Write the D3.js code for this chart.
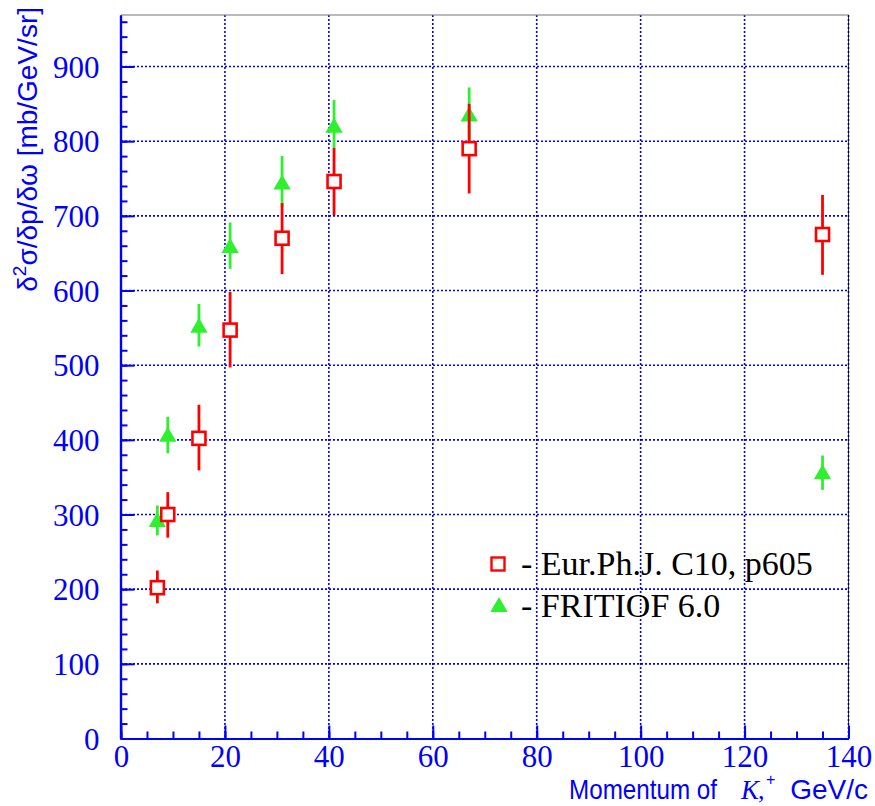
<!DOCTYPE html>
<html>
<head>
<meta charset="utf-8">
<script src="https://cdn.jsdelivr.net/npm/d3@7"></script>
<style>
  html, body { margin: 0; padding: 0; background: #fff; }
  svg { display: block; }
</style>
</head>
<body>
<svg id="chart" width="875" height="806"></svg>
<script>
// ---- data ----
const momentum = [7, 9, 15, 21, 31, 41, 67, 135];
const eurValues = [202, 300, 402, 547, 670, 746, 790, 675];
const eurLow    = [181, 269, 359, 497, 622, 701, 730, 621];
const eurHigh   = [225, 330, 447, 598, 717, 791, 850, 728];
const fritValues = [292, 406, 552, 659, 744, 820, 835, 356];
const fritLow    = [272, 382, 525, 629, 712, 791, 800, 333];
const fritHigh   = [312, 431, 582, 691, 780, 855, 872, 379];
const xTicks = [0, 20, 40, 60, 80, 100, 120, 140];
const yTicks = [0, 100, 200, 300, 400, 500, 600, 700, 800, 900];
const legendLabels = ["- Eur.Ph.J. C10, p605", "- FRITIOF 6.0"];

const BLUE = "#0000ff", RED = "#ff0000", GREEN = "#2ef02e";
const SERIF = "'Liberation Serif', 'Times New Roman', Times, serif";
const SANS = "'Liberation Sans', Arial, Helvetica, sans-serif";
const svg = d3.select("#chart");
const pLeft = 121, pRight = 848.5, pTop = 15, pBottom = 738.5;
const x = d3.scaleLinear().domain([0, 140]).range([pLeft, pRight]);
const y = d3.scaleLinear().domain([0, 969]).range([pBottom, pTop]);

// grid
const grid = svg.append("g");
grid.selectAll("line.h").data(yTicks.filter(v => v > 0)).enter().append("line")
  .attr("x1", pLeft).attr("x2", pRight).attr("y1", d => y(d)).attr("y2", d => y(d))
  .attr("stroke", BLUE).attr("stroke-width", 1.6).attr("stroke-dasharray", "2,2");
grid.selectAll("line.v").data(xTicks.filter(v => v > 0)).enter().append("line")
  .attr("y1", pTop).attr("y2", pBottom).attr("x1", d => x(d)).attr("x2", d => x(d))
  .attr("stroke", BLUE).attr("stroke-width", 1.6).attr("stroke-dasharray", "2,2");

// frame top/right
svg.append("line").attr("x1", pLeft).attr("x2", pRight + 0.5).attr("y1", pTop).attr("y2", pTop)
  .attr("stroke", "#777").attr("stroke-width", 1.2);
svg.append("line").attr("x1", pRight).attr("x2", pRight).attr("y1", pTop).attr("y2", pBottom)
  .attr("stroke", "#000").attr("stroke-width", 0.8);

// axes
const yAxis = d3.axisLeft(y).tickValues(yTicks).tickSizeInner(-14).tickSizeOuter(0).tickPadding(21);
const yMinor = d3.axisLeft(y).tickValues(d3.range(0, 961, 20)).tickSizeInner(-7).tickSizeOuter(0).tickFormat("");
const xAxis = d3.axisBottom(x).tickValues(xTicks).tickSizeInner(-13).tickSizeOuter(0).tickPadding(8);
const xMinor = d3.axisBottom(x).tickValues(d3.range(0, 141, 5)).tickSizeInner(-7).tickSizeOuter(0).tickFormat("");

function styleAxis(g) {
  g.attr("font-family", SERIF).attr("font-size", 31);
  g.select(".domain").attr("stroke", BLUE).attr("stroke-width", 2.2);
  g.selectAll(".tick line").attr("stroke", BLUE).attr("stroke-width", 2);
  g.selectAll(".tick text").attr("fill", BLUE)
    .style("font-family", SERIF).style("font-size", "31px");
}
svg.append("g").attr("transform", `translate(${pLeft - 0.5},0)`).call(yMinor).call(styleAxis);
svg.append("g").attr("transform", `translate(${pLeft - 0.5},0)`).call(yAxis).call(styleAxis)
  .selectAll(".tick text").attr("dy", "0.34em");
svg.append("g").attr("transform", `translate(0,${pBottom})`).call(xMinor).call(styleAxis);
svg.append("g").attr("transform", `translate(0,${pBottom})`).call(xAxis).call(styleAxis)
  .selectAll(".tick text").attr("dy", "0.65em");

// axis titles
const ytitle = svg.append("text")
  .attr("transform", "translate(37,7) rotate(-90)")
  .attr("text-anchor", "end")
  .attr("fill", BLUE)
  .style("font-family", SANS).style("font-size", "28px");
ytitle.append("tspan").text("δ");
ytitle.append("tspan").attr("dy", -11).style("font-size", "19px").text("2");
ytitle.append("tspan").attr("dy", 11).text("σ/δp/δω [mb/GeV/sr]");

const xt = svg.append("g").attr("fill", BLUE);
xt.append("text").attr("x", 569).attr("y", 799)
  .attr("textLength", 148).attr("lengthAdjust", "spacingAndGlyphs")
  .style("font-family", SANS).style("font-size", "28px").text("Momentum of");
xt.append("text").attr("x", 741).attr("y", 799)
  .style("font-family", SERIF).style("font-style", "italic").style("font-size", "27px").text("K");
xt.append("text").attr("x", 758).attr("y", 799)
  .style("font-family", SERIF).style("font-size", "26px").text(",");
xt.append("text").attr("x", 766).attr("y", 785)
  .style("font-family", SANS).style("font-size", "16px").text("+");
xt.append("text").attr("x", 868).attr("y", 799).attr("text-anchor", "end")
  .style("font-family", SANS).style("font-size", "28px").text("GeV/c");

// data
const fritData = momentum.map((m, i) => ({ m, v: fritValues[i], lo: fritLow[i], hi: fritHigh[i] }));
const eurData = momentum.map((m, i) => ({ m, v: eurValues[i], lo: eurLow[i], hi: eurHigh[i] }));
const tri = d3.symbol().type(d3.symbolTriangle).size(130);

const gF = svg.append("g");
gF.selectAll("line").data(fritData).enter().append("line")
  .attr("x1", d => x(d.m)).attr("x2", d => x(d.m)).attr("y1", d => y(d.lo)).attr("y2", d => y(d.hi))
  .attr("stroke", GREEN).attr("stroke-width", 2.8);
gF.selectAll("path").data(fritData).enter().append("path")
  .attr("d", tri).attr("transform", d => `translate(${x(d.m)},${y(d.v) + 1.5})`)
  .attr("fill", GREEN);

const gE = svg.append("g");
const sq = 13;
gE.selectAll("line").data(eurData).enter().append("line")
  .attr("x1", d => x(d.m)).attr("x2", d => x(d.m)).attr("y1", d => y(d.lo)).attr("y2", d => y(d.hi))
  .attr("stroke", RED).attr("stroke-width", 2.8);
gE.selectAll("rect").data(eurData).enter().append("rect")
  .attr("x", d => x(d.m) - sq / 2).attr("y", d => y(d.v) - sq / 2)
  .attr("width", sq).attr("height", sq)
  .attr("fill", "#fff").attr("stroke", RED).attr("stroke-width", 2.6);

// legend
const lg = svg.append("g");
lg.append("rect").attr("x", 498 - 6.5).attr("y", 564 - 6.5).attr("width", 13).attr("height", 13)
  .attr("fill", "#fff").attr("stroke", RED).attr("stroke-width", 2.4);
lg.append("path").attr("d", tri).attr("transform", "translate(499,607)").attr("fill", GREEN);
lg.selectAll("text").data(legendLabels).enter().append("text")
  .attr("x", 521).attr("y", (d, i) => 575 + i * 42)
  .attr("fill", "#000")
  .style("font-family", SERIF).style("font-size", "34px")
  .text(d => d);
</script>
</body>
</html>
